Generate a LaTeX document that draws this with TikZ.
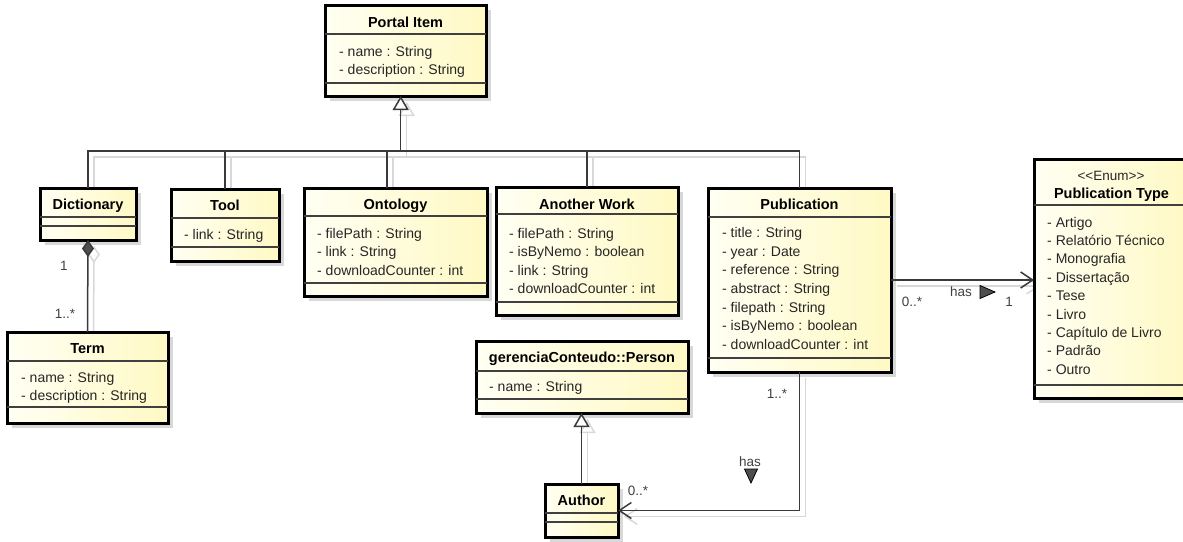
\documentclass[tikz,border=0pt]{standalone}
\usepackage{fontspec}
\setmainfont{Liberation Sans}
\usetikzlibrary{arrows.meta,backgrounds}

\definecolor{fillA}{HTML}{FFFFF3}
\definecolor{fillB}{HTML}{FFF9C4}
\definecolor{linec}{HTML}{3A3A3A}
\definecolor{shadowc}{HTML}{D8D8D8}
\definecolor{diamc}{HTML}{4E4E4E}

\tikzset{
  x=1pt, y=-1pt,
  classbox/.style={draw=black, line width=3pt, left color=fillA, right color=fillB,
    inner sep=0pt, outer sep=0pt},
  boxshadow/.style={fill=shadowc},
  sepline/.style={draw=black!75, line width=1.4pt},
  titletext/.style={font=\fontsize{14.5}{17}\selectfont\bfseries, inner sep=0pt, text=black},
  attrtext/.style={font=\fontsize{14}{17}\selectfont, inner sep=0pt, text=black!85},
  stereotext/.style={font=\fontsize{13.5}{16}\selectfont, inner sep=0pt, text=black!85},
  conn/.style={draw=linec, line width=1.5pt},
  connshadow/.style={draw=shadowc, line width=1.5pt, transform canvas={xshift=6pt,yshift=-6pt}},
  multlabel/.style={font=\fontsize{13.5}{16}\selectfont, inner sep=0pt, text=black!75},
  gentip/.style={-{Triangle[open, fill=white, length=14pt, width=16pt]}},
  gentipshadow/.style={-{Triangle[open, length=14pt, width=16pt]}},
  navtip/.style={-{Straight Barb[length=12pt, width=16pt]}},
  comptip/.style={{Diamond[length=17pt, width=12pt, fill=diamc]}-},
  dirmark/.style={fill=diamc, draw=black, line width=0.8pt, line join=miter},
}

% class box: name, x1, y1, x2, y2, first separator, second separator, title, title baseline
\newcommand\umlclass[9]{%
  \begin{pgfonlayer}{background}
    \fill[boxshadow] (#2+5,#3+5) rectangle (#4+5,#5+5);
  \end{pgfonlayer}
  \node[classbox, anchor=north west, minimum width={#4-#2}, minimum height={#5-#3}] (#1) at (#2,#3) {};
  \draw[sepline] (#2,#6) -- (#4,#6);
  \draw[sepline] (#2,#7) -- (#4,#7);
  \node[titletext, anchor=base] (#1-title) at ({(#2+#4)/2},#9) {#8};
}

% attribute list: name, left x, first baseline, line step, items
\newcommand\umlattrs[5]{%
  \foreach \a [count=\i] in {#5} {
    \node[attrtext, anchor=base west] (#1-attr\i) at (#2,{#3+(\i-1)*#4}) {\a};
  }
}

\begin{document}
\begin{tikzpicture}
\useasboundingbox (0,0) rectangle (1183,541);

% ---------- classes ----------
\umlclass{portal}{325}{5}{486}{96}{34}{83}{Portal Item}{27}
\umlattrs{portal}{339}{56.5}{18.4}{- name : String, - description : String}

\umlclass{dict}{40}{188}{136}{240}{217}{226}{Dictionary}{209}

\umlclass{tool}{171}{189}{279}{261}{218}{247}{Tool}{210}
\umlattrs{tool}{184}{239}{18.6}{- link : String}

\umlclass{ont}{304}{188}{487}{296}{216}{283}{Ontology}{209.5}
\umlattrs{ont}{317}{238}{18.7}{- filePath : String, - link : String, - downloadCounter : int}

\umlclass{aw}{496}{187}{678}{315}{214}{302}{Another Work}{209}
\umlattrs{aw}{509}{238}{18.6}{- filePath : String, - isByNemo : boolean, - link : String, - downloadCounter : int}

\umlclass{pub}{708}{188}{891}{372}{217}{358}{Publication}{209}
\umlattrs{pub}{722}{237.5}{18.67}{- title : String, - year : Date, - reference : String, - abstract : String, - filepath : String, - isByNemo : boolean, - downloadCounter : int}

\umlclass{ptype}{1034}{159}{1189}{398}{205}{385}{Publication Type}{198}
\node[stereotext, anchor=base] (ptype-stereo) at (1111,180) {{<}{<}Enum{>}{>}};
\umlattrs{ptype}{1047}{227}{18.4}{- Artigo, - Relatório Técnico, - Monografia, - Dissertação, - Tese, - Livro, - Capítulo de Livro, - Padrão, - Outro}

\umlclass{term}{7}{332}{168}{423}{361}{407}{Term}{353}
\umlattrs{term}{21}{382.5}{18.3}{- name : String, - description : String}

\umlclass{person}{476}{341}{688}{413}{371}{399}{gerenciaConteudo::Person}{362.5}
\umlattrs{person}{489}{391}{18.4}{- name : String}

\umlclass{author}{545}{484}{618}{537}{513}{522}{Author}{505.5}

% ---------- connectors ----------
\coordinate (genj) at (400.7,151);
\coordinate (ont-top) at ([xshift=-8.5pt]ont.north);

\begin{pgfonlayer}{background}
  \draw[connshadow] (dict.north) |- (genj);
  \draw[connshadow] (tool.north) |- (genj);
  \draw[connshadow] (ont-top) |- (genj);
  \draw[connshadow] (aw.north) |- (genj);
  \draw[connshadow] (pub.north) |- (genj);
  \draw[connshadow, gentipshadow] (genj) -- (genj |- portal.south);
  \draw[connshadow, {Diamond[length=17pt, width=12pt, open]}-] (dict.south) -- (term.north);
  \draw[connshadow, gentipshadow] (author.north) -- (author.north |- person.south);
  \draw[connshadow, navtip] (pub.south) |- (author.east);
  \draw[connshadow, navtip] (pub.east) -- (pub.east -| ptype.west);
\end{pgfonlayer}

% generalisations to Portal Item
\draw[conn] (dict.north) |- (genj);
\draw[conn] (tool.north) |- (genj);
\draw[conn] (ont-top) |- (genj);
\draw[conn] (aw.north) |- (genj);
\draw[conn] (pub.north) |- (genj);
\draw[conn, gentip] (genj) -- (genj |- portal.south);

% composition Dictionary -- Term
\draw[conn, comptip] (dict.south) -- (term.north);
\node[multlabel, anchor=base] (dict-mult) at (64,270) {1};
\node[multlabel, anchor=base] (term-mult) at (65,318) {1..*};

% generalisation Author -> Person
\draw[conn, gentip] (author.north) -- (author.north |- person.south);

% association Publication -> Author
\draw[conn, navtip] (pub.south) |- (author.east);
\node[multlabel, anchor=base] (pub-mult) at (777,398) {1..*};
\node[multlabel, anchor=base] (author-mult) at (638,495) {0..*};
\node[multlabel, anchor=base] (has-author) at (750,466.5) {has};
\fill[dirmark] (744.5,469) -- (757.5,469) -- (751,483) -- cycle;

% association Publication -> Publication Type
\draw[conn, navtip] (pub.east) -- (pub.east -| ptype.west);
\node[multlabel, anchor=base] (pub-mult2) at (912,306.5) {0..*};
\node[multlabel, anchor=base] (ptype-mult) at (1009,306.5) {1};
\node[multlabel, anchor=base] (has-ptype) at (961,296.5) {has};
\fill[dirmark] (980,285.5) -- (980,298.5) -- (995,292) -- cycle;
\end{tikzpicture}
\end{document}
